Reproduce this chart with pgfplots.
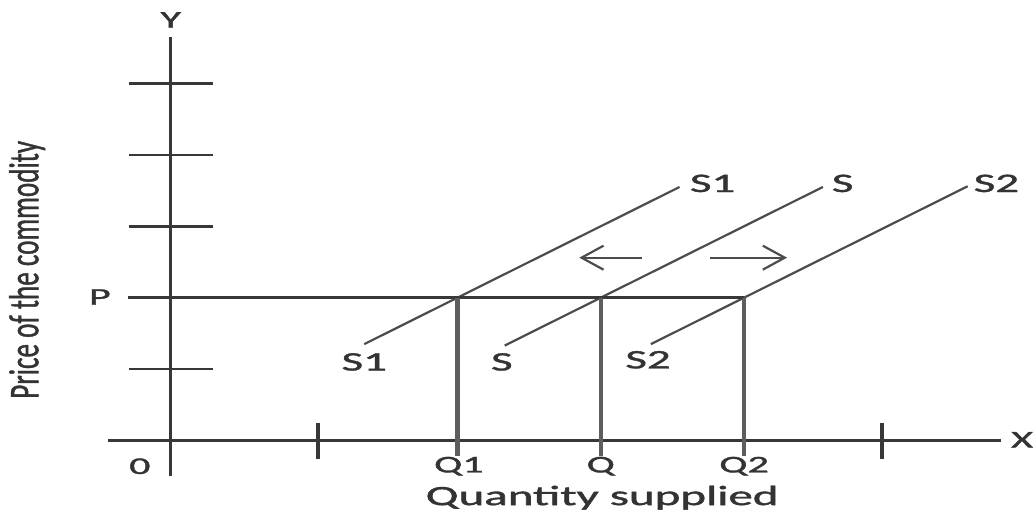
\documentclass[border=0pt]{standalone}
\usepackage{fontspec}
\setmainfont{Carlito}
\newfontfamily\heavy[FakeBold=1.2]{Carlito}
\usepackage{graphicx}
\usepackage{pgfplots}
\pgfplotsset{compat=1.18}
\usetikzlibrary{arrows.meta}

\definecolor{axisgray}{HTML}{383838}
\definecolor{curvegray}{HTML}{4C4C4C}
\definecolor{dropgray}{HTML}{5E5E5E}
\definecolor{textgray}{HTML}{333333}

\tikzset{lbl/.style={text=textgray, inner sep=0pt}}

% labels are set wide, as in the printed diagram
\newcommand{\wide}[1]{\scalebox{1.75}[1]{#1}}

\begin{document}
\begin{tikzpicture}
\begin{axis}[
  scale only axis,
  width=447pt, height=220pt,
  xmin=-0.439, xmax=5.791,
  ymin=-0.503, ymax=5.650,
  axis lines=middle,
  axis line style={-, draw=axisgray, line width=1.6pt},
  xtick={1.03,4.96}, ytick={1,2,3,4,5},
  xticklabels={}, yticklabels={},
  tick align=center,
  major tick length=42pt,
  xtick style={draw=axisgray, line width=2pt, /pgfplots/major tick length=18pt},
  ytick style={draw=axisgray, line width=1.3pt},
  clip=false,
]
% whole drawing area
\path (axis cs:-1.1916,-1.035) rectangle (axis cs:6.007,6.168);

% supply curves S1, S, S2
\addplot[draw=curvegray, line width=1.1pt] coordinates {(1.35,1.35) (3.55,3.55)};
\addplot[draw=curvegray, line width=1.1pt] coordinates {(2.33,1.33) (4.55,3.55)};
\addplot[draw=curvegray, line width=1.1pt] coordinates {(3.35,1.35) (5.56,3.56)};

% price line at P
\addplot[draw=axisgray, line width=1.4pt] coordinates {(-0.30,2) (4,2)};

% quantities supplied at P
\addplot[draw=dropgray, line width=2.2pt] coordinates {(2,2) (2,-0.22)};
\addplot[draw=dropgray, line width=2.2pt] coordinates {(3,2) (3,-0.22)};
\addplot[draw=dropgray, line width=2.2pt] coordinates {(4,2) (4,-0.22)};

% shift arrows
\addplot[draw=curvegray, line width=1.1pt, -{Straight Barb[length=11pt,width=12pt]}]
  coordinates {(3.29,2.56) (2.85,2.56)};
\addplot[draw=curvegray, line width=1.1pt, -{Straight Barb[length=11pt,width=12pt]}]
  coordinates {(3.76,2.56) (4.30,2.56)};

% curve labels
\node[lbl, anchor=west, font=\heavy\fontsize{13.4}{15}\selectfont] at (axis cs:3.62,3.60) {\wide{S1}};
\node[lbl, anchor=west, font=\heavy\fontsize{13.4}{15}\selectfont] at (axis cs:4.61,3.60) {\wide{S}};
\node[lbl, anchor=west, font=\heavy\fontsize{13.4}{15}\selectfont] at (axis cs:5.60,3.60) {\wide{S2}};
\node[lbl, font=\heavy\fontsize{13.4}{15}\selectfont] at (axis cs:1.35,1.10) {\wide{S1}};
\node[lbl, font=\heavy\fontsize{13.4}{15}\selectfont] at (axis cs:2.31,1.10) {\wide{S}};
\node[lbl, font=\heavy\fontsize{13.4}{15}\selectfont] at (axis cs:3.33,1.13) {\wide{S2}};

% axis labels
\node[lbl, font=\heavy\fontsize{12}{14}\selectfont] at (axis cs:-0.495,2.01) {\wide{P}};
\node[lbl, font=\heavy\fontsize{12}{14}\selectfont] at (axis cs:-0.216,-0.36) {\wide{0}};
\node[lbl, font=\heavy\fontsize{12}{14}\selectfont] at (axis cs:2.01,-0.36) {\wide{Q1}};
\node[lbl, font=\heavy\fontsize{12}{14}\selectfont] at (axis cs:3.00,-0.36) {\wide{Q}};
\node[lbl, font=\heavy\fontsize{12}{14}\selectfont] at (axis cs:4.00,-0.36) {\wide{Q2}};
\node[lbl, font=\heavy\fontsize{14}{16}\selectfont] at (axis cs:3.01,-0.80) {\wide{Quantity supplied}};
\node[lbl, font=\heavy\fontsize{12}{14}\selectfont] at (axis cs:5.94,0.01) {\wide{X}};
\node[lbl, font=\heavy\fontsize{12}{14}\selectfont] at (axis cs:0.0,5.89) {\wide{Y}};
\node[lbl, rotate=90, font=\heavy\fontsize{13.6}{15}\selectfont] at (axis cs:-1.003,2.39)
  {\scalebox{1}[1.55]{Price of the commodity}};
\end{axis}
\end{tikzpicture}
\end{document}
